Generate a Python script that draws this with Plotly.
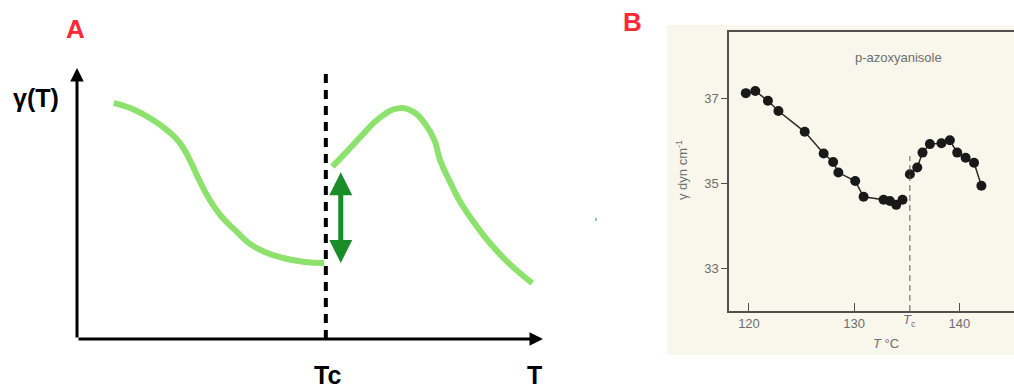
import plotly.graph_objects as go

W, H = 1014, 390

# ---------------- Panel A (schematic, arbitrary units) ----------------
A_left_T = [0.79, 1.24, 1.63, 1.95, 2.21, 2.42, 2.62, 2.85, 3.11, 3.41, 3.69, 4.03, 4.42, 4.89, 5.30]
A_left_g = [8.71, 8.45, 8.08, 7.68, 7.23, 6.61, 5.87, 5.13, 4.50, 3.99, 3.54, 3.21, 2.99, 2.84, 2.80]
A_right_T = [5.48, 5.82, 6.15, 6.48, 6.89, 7.22, 7.46, 7.67, 7.79, 8.00, 8.20, 8.53, 8.86, 9.27, 9.77]
A_right_g = [6.36, 6.97, 7.58, 8.14, 8.51, 8.38, 7.96, 7.34, 6.61, 5.81, 5.13, 4.27, 3.54, 2.79, 2.06]
A_Tc = 5.34
A_jump = [2.75, 6.15]

# ---------------- Panel B (p-azoxyanisole data) ----------------
B_T = [119.7, 120.6, 121.8, 122.8, 125.3, 127.1, 128.0, 128.5, 130.1, 130.9,
       132.8, 133.4, 134.0, 134.6,
       135.3, 136.0, 136.5, 137.2, 138.3, 139.1, 139.8, 140.6, 141.4, 142.1]
B_gamma = [37.13, 37.18, 36.95, 36.71, 36.22, 35.71, 35.51, 35.26, 35.06, 34.69,
           34.62, 34.59, 34.50, 34.62,
           35.22, 35.38, 35.73, 35.93, 35.95, 36.02, 35.73, 35.61, 35.49, 34.95]
B_Tc = 135.3
B_xticks = [120, 130, 140]
B_yticks = [33, 35, 37]

light_green = "rgb(140,226,108)"
dark_green = "rgb(26,140,42)"
red = "rgb(255,40,52)"
gray = "rgb(110,110,110)"

fig = go.Figure()

# Panel A curves
fig.add_trace(go.Scatter(x=A_left_T, y=A_left_g, mode="lines",
                         line=dict(color=light_green, width=6, shape="spline", smoothing=1.3),
                         xaxis="x", yaxis="y", showlegend=False, hoverinfo="skip"))
fig.add_trace(go.Scatter(x=A_right_T, y=A_right_g, mode="lines",
                         line=dict(color=light_green, width=6, shape="spline", smoothing=1.3),
                         xaxis="x", yaxis="y", showlegend=False, hoverinfo="skip"))
# dashed Tc line A
fig.add_trace(go.Scatter(x=[A_Tc, A_Tc], y=[0, 9.85], mode="lines",
                         line=dict(color="black", width=4, dash="9px,7px"),
                         xaxis="x", yaxis="y", showlegend=False, hoverinfo="skip"))

# Panel B data: split at Tc
split = sum(1 for t in B_T if t < B_Tc)
T_line = B_T[:split] + [None] + B_T[split:]
g_line = B_gamma[:split] + [None] + B_gamma[split:]
fig.add_trace(go.Scatter(x=T_line, y=g_line, mode="lines",
                         line=dict(color="rgb(40,40,40)", width=1.5),
                         xaxis="x2", yaxis="y2", showlegend=False, hoverinfo="skip",
                         connectgaps=False))
fig.add_trace(go.Scatter(x=B_T, y=B_gamma, mode="markers",
                         marker=dict(color="rgb(25,25,25)", size=10),
                         xaxis="x2", yaxis="y2", showlegend=False))
# dashed Tc line B
fig.add_trace(go.Scatter(x=[B_Tc, B_Tc], y=[32.0, 35.65], mode="lines",
                         line=dict(color="rgb(90,90,90)", width=1, dash="6px,4px"),
                         xaxis="x2", yaxis="y2", showlegend=False, hoverinfo="skip"))

def py(p):
    return (H - p) / H

def px(p):
    return p / W

def label(xp, yp, text, font, **kw):
    d = dict(x=px(xp), y=py(yp), xref="paper", yref="paper", text=text,
             showarrow=False, font=font, xanchor="center", yanchor="middle")
    d.update(kw)
    return d

annotations = []
# Panel A axes arrows
annotations.append(dict(x=10, y=0, ax=0, ay=0, xref="x", yref="y", axref="x", ayref="y",
                        showarrow=True, arrowhead=2, arrowsize=0.9, arrowwidth=3,
                        arrowcolor="black", text=""))
annotations.append(dict(x=0, y=10, ax=0, ay=0, xref="x", yref="y", axref="x", ayref="y",
                        showarrow=True, arrowhead=2, arrowsize=0.9, arrowwidth=3,
                        arrowcolor="black", text=""))
# double green arrow
annotations.append(dict(x=5.66, y=A_jump[1], ax=5.66, ay=A_jump[0],
                        xref="x", yref="y", axref="x", ayref="y",
                        showarrow=True, arrowhead=2, startarrowhead=2, arrowside="end+start",
                        arrowsize=0.92, startarrowsize=0.92, arrowwidth=5,
                        arrowcolor=dark_green, text=""))
# Panel A texts
bold = dict(family="Liberation Sans, Arial, sans-serif", size=25, color="black")
redfont = dict(family="Liberation Sans, Arial, sans-serif", size=26, color=red)
annotations.append(label(75, 29, "<b>A</b>", redfont))
annotations.append(label(632, 22, "<b>B</b>", redfont))
annotations.append(label(36, 98, "<b>γ(T)</b>", bold))
annotations.append(label(327, 375, "<b>Tc</b>", bold))
annotations.append(label(534, 375, "<b>T</b>", bold))
annotations.append(label(596, 222, "‘", dict(size=10, color="rgb(60,60,80)")))

# Panel B texts
small = dict(family="Liberation Sans, Arial, sans-serif", size=13, color=gray)
mid = dict(family="Liberation Sans, Arial, sans-serif", size=13, color=gray)
annotations.append(label(898, 57, "p-azoxyanisole", small))
annotations.append(label(682, 170, "γ dyn cm<sup>-1</sup>", small, textangle=-90))
annotations.append(label(886, 343, "<i>T</i> °C", mid))
annotations.append(dict(x=B_Tc, y=py(320), xref="x2", yref="paper",
                        text="<i>T</i><sub>c</sub>", showarrow=False, font=mid,
                        xanchor="center", yanchor="middle"))

shapes = [dict(type="rect", xref="paper", yref="paper", x0=px(667), x1=1.0,
               y0=py(355), y1=py(25), fillcolor="rgb(249,247,236)",
               line=dict(width=0), layer="below")]

fig.update_layout(
    width=W, height=H,
    margin=dict(l=0, r=0, t=0, b=0),
    paper_bgcolor="white",
    plot_bgcolor="rgba(0,0,0,0)",
    showlegend=False,
    xaxis=dict(domain=[px(77), px(543)], range=[0, 10], visible=False, fixedrange=True),
    yaxis=dict(domain=[py(339), py(68)], range=[0, 10], visible=False, fixedrange=True),
    xaxis2=dict(domain=[px(729), 1.0], range=[118.1, 145.2], anchor="y2",
                showline=True, linecolor="rgb(80,80,80)", linewidth=1.5, mirror=True,
                showgrid=False, zeroline=False, tickvals=B_xticks,
                ticks="inside", ticklen=8, tickcolor="rgb(80,80,80)", tickwidth=1.2,
                tickfont=mid),
    yaxis2=dict(domain=[py(311), py(32)], range=[32.0, 38.57], anchor="x2",
                showline=True, linecolor="rgb(80,80,80)", linewidth=1.5, mirror=False,
                showgrid=False, zeroline=False, tickvals=B_yticks,
                ticks="outside", ticklen=6, tickcolor="rgb(80,80,80)", tickwidth=1.2,
                tickfont=mid),
    annotations=annotations,
    shapes=shapes,
)

fig.write_html("out.html", config={"displayModeBar": False},
               post_script="document.body.style.margin='0px';")
